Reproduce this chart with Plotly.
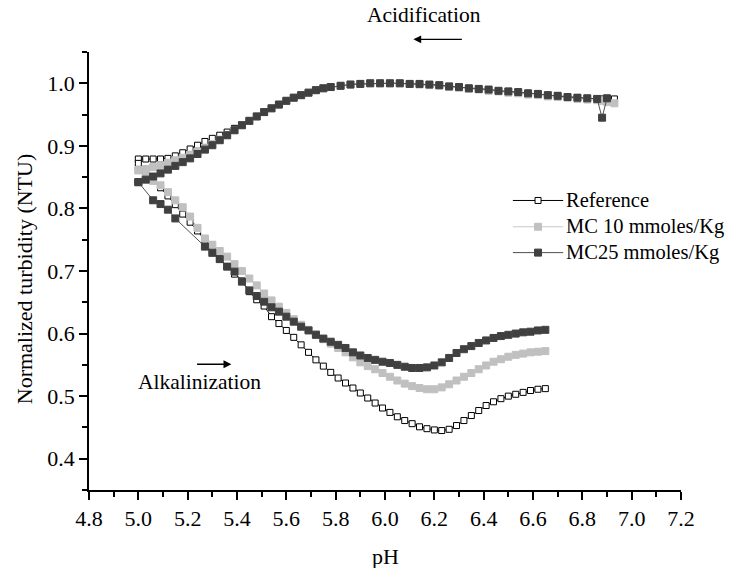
import plotly.graph_objects as go

# pH values read along the acidification run (6.9 -> 5.0)
ACID_PH = [6.93, 6.90, 6.88, 6.86, 6.82, 6.78, 6.74, 6.70, 6.66, 6.62, 6.58, 6.54,
           6.50, 6.46, 6.42, 6.38, 6.34, 6.30, 6.26, 6.22, 6.18, 6.14, 6.10, 6.06,
           6.02, 5.98, 5.94, 5.90, 5.86, 5.82, 5.78, 5.75, 5.72, 5.69, 5.66, 5.63,
           5.60, 5.57, 5.54, 5.51, 5.48, 5.45, 5.42, 5.39, 5.36, 5.33, 5.30, 5.27,
           5.24, 5.21, 5.18, 5.15, 5.12, 5.09, 5.06, 5.03, 5.00]
REF_ACID = [0.975, 0.976, 0.975, 0.975, 0.976, 0.977, 0.978, 0.980, 0.981, 0.983, 0.984, 0.986,
            0.987, 0.988, 0.990, 0.991, 0.992, 0.994, 0.995, 0.997, 0.998, 0.999, 0.999, 1.000,
            1.000, 1.000, 1.000, 0.999, 0.998, 0.996, 0.994, 0.992, 0.989, 0.985, 0.981, 0.977,
            0.972, 0.966, 0.960, 0.954, 0.947, 0.940, 0.934, 0.928, 0.922, 0.917, 0.912, 0.907,
            0.901, 0.895, 0.889, 0.884, 0.880, 0.879, 0.879, 0.879, 0.879]
MC10_ACID = [0.968, 0.970, 0.972, 0.973, 0.974, 0.975, 0.977, 0.978, 0.979, 0.981, 0.982, 0.984,
             0.985, 0.987, 0.988, 0.990, 0.991, 0.993, 0.994, 0.996, 0.997, 0.998, 0.999, 1.000,
             1.000, 1.000, 1.000, 0.999, 0.998, 0.996, 0.994, 0.992, 0.989, 0.985, 0.981, 0.977,
             0.972, 0.966, 0.960, 0.954, 0.947, 0.940, 0.933, 0.925, 0.917, 0.910, 0.903, 0.897,
             0.891, 0.886, 0.881, 0.877, 0.873, 0.869, 0.866, 0.863, 0.861]
MC25_ACID = [None, 0.976, 0.945, 0.975, 0.976, 0.977, 0.978, 0.980, 0.981, 0.983, 0.984, 0.986,
             0.987, 0.988, 0.990, 0.991, 0.992, 0.994, 0.995, 0.997, 0.998, 0.999, 0.999, 1.000,
             1.000, 1.000, 1.000, 0.999, 0.998, 0.996, 0.994, 0.992, 0.989, 0.985, 0.981, 0.977,
             0.972, 0.966, 0.960, 0.954, 0.947, 0.940, 0.933, 0.925, 0.917, 0.909, 0.901, 0.894,
             0.887, 0.880, 0.874, 0.868, 0.862, 0.856, 0.851, 0.846, 0.842]

# pH values read along the alkalinization run (5.0 -> 6.65)
ALK_PH = [5.00, 5.03, 5.06, 5.09, 5.12, 5.15, 5.18, 5.21, 5.24, 5.27, 5.30, 5.33,
          5.36, 5.39, 5.42, 5.45, 5.48, 5.51, 5.54, 5.57, 5.60, 5.63, 5.66, 5.69,
          5.72, 5.75, 5.78, 5.81, 5.84, 5.87, 5.90, 5.93, 5.96, 5.99, 6.02, 6.05,
          6.08, 6.11, 6.14, 6.17, 6.20, 6.23, 6.26, 6.29, 6.32, 6.35, 6.38, 6.41,
          6.44, 6.47, 6.50, 6.53, 6.56, 6.59, 6.62, 6.65]
REF_ALK = [0.872, 0.858, 0.845, 0.833, 0.820, 0.806, 0.791, 0.778, 0.764, 0.749, 0.732, 0.719,
           0.707, 0.695, 0.684, 0.667, 0.654, 0.644, 0.627, 0.616, 0.605, 0.594, 0.582, 0.570,
           0.558, 0.548, 0.538, 0.529, 0.521, 0.513, 0.505, 0.497, 0.489, 0.481, 0.474, 0.467,
           0.461, 0.456, 0.451, 0.448, 0.446, 0.445, 0.447, 0.453, 0.461, 0.469, 0.477, 0.485,
           0.491, 0.496, 0.500, 0.503, 0.506, 0.509, 0.511, 0.512]
MC10_ALK = [0.861, 0.852, 0.844, 0.837, 0.826, 0.813, 0.802, 0.787, 0.769, 0.752, 0.742, 0.732,
            0.723, 0.711, 0.700, 0.688, 0.677, 0.664, 0.653, 0.643, 0.633, 0.623, 0.614, 0.606,
            0.599, 0.591, 0.584, 0.577, 0.570, 0.562, 0.554, 0.548, 0.543, 0.537, 0.531, 0.525,
            0.520, 0.516, 0.513, 0.511, 0.511, 0.514, 0.519, 0.525, 0.531, 0.537, 0.543, 0.549,
            0.555, 0.559, 0.563, 0.566, 0.568, 0.570, 0.571, 0.572]
MC25_ALK = [0.842, None, 0.813, 0.807, 0.798, 0.784, None, None, None, 0.739, 0.729, 0.719,
            0.707, 0.699, 0.683, 0.669, 0.660, 0.651, 0.642, 0.635, 0.627, 0.619, 0.611, 0.605,
            0.598, 0.592, 0.587, 0.582, 0.577, 0.570, 0.565, 0.561, 0.558, 0.555, 0.553, 0.550,
            0.547, 0.545, 0.545, 0.546, 0.549, 0.554, 0.561, 0.569, 0.575, 0.580, 0.585, 0.589,
            0.593, 0.596, 0.598, 0.600, 0.602, 0.603, 0.605, 0.606]

NAMES = ['Reference', 'MC 10 mmoles/Kg', 'MC25 mmoles/Kg']
X_TICKS = [4.8, 5.0, 5.2, 5.4, 5.6, 5.8, 6.0, 6.2, 6.4, 6.6, 6.8, 7.0, 7.2]
Y_TICKS = [0.4, 0.5, 0.6, 0.7, 0.8, 0.9, 1.0]

FONT = 'Liberation Serif'
BLACK = '#000000'
fig = go.Figure()

# series style: (name, values, marker fill, marker edge, line colour, marker size)
series = [
    (NAMES[0], REF_ACID + REF_ALK, '#ffffff', BLACK, BLACK, 6),
    (NAMES[1], MC10_ACID + MC10_ALK, '#c0c0c0', '#c0c0c0', '#c8c8c8', 7),
    (NAMES[2], MC25_ACID + MC25_ALK, '#404040', '#404040', '#505050', 7),
]
for (name, yVals, fill, edge, lcol, msize) in series:
    fig.add_trace(go.Scatter(
        x=ACID_PH + ALK_PH, y=yVals, name=name, mode='lines+markers',
        connectgaps=True, showlegend=False,
        line=dict(color=lcol, width=1),
        marker=dict(symbol='square', size=msize, color=fill,
                    line=dict(color=edge, width=1)),
    ))

# legend drawn by hand so it can sit right against the figure edge -------------
legY = [0.661, 0.601, 0.542]
for (i, (name, _, fill, edge, lcol, msize)) in enumerate(series):
    fig.add_shape(type='line', xref='paper', yref='paper',
                  x0=0.716, x1=0.801, y0=legY[i], y1=legY[i],
                  line=dict(color=lcol, width=1))
    fig.add_shape(type='rect', xref='paper', yref='paper',
                  xsizemode='pixel', ysizemode='pixel',
                  xanchor=0.7585, yanchor=legY[i],
                  x0=-msize / 2, x1=msize / 2, y0=-msize / 2, y1=msize / 2,
                  fillcolor=fill, line=dict(color=edge, width=1))
    fig.add_annotation(x=0.8023, y=legY[i], xref='paper', yref='paper',
                       xanchor='left', yanchor='middle', showarrow=False,
                       text=name, font=dict(size=20.5, family=FONT, color=BLACK))

# direction arrows and their labels --------------------------------------------
fig.add_annotation(x=6.115, y=1.029, xref='x', yref='paper', ax=50, ay=0,
                   text='', showarrow=True, arrowhead=2,
                   arrowsize=1.2, arrowwidth=1.3, arrowcolor=BLACK)
fig.add_annotation(x=6.157, y=1.084, xref='x', yref='paper', yanchor='middle',
                   text='Acidification', showarrow=False,
                   font=dict(size=21.5, family=FONT, color=BLACK))
fig.add_annotation(x=5.377, y=0.551, ax=5.232, ay=0.551, xref='x', yref='y',
                   axref='x', ayref='y', text='', showarrow=True, arrowhead=2,
                   arrowsize=1.2, arrowwidth=1.3, arrowcolor=BLACK)
fig.add_annotation(x=5.249, y=0.522, xref='x', yref='y', text='Alkalinization',
                   showarrow=False, font=dict(size=21.5, family=FONT, color=BLACK))
# axis titles ------------------------------------------------------------------
fig.add_annotation(x=-0.1075, y=0.482, xref='paper', yref='paper', textangle=-90,
                   xanchor='center', yanchor='middle', showarrow=False,
                   text='Normalized turbidity (NTU)',
                   font=dict(size=22, family=FONT, color=BLACK))
fig.add_annotation(x=0.5, y=-0.151, xref='paper', yref='paper',
                   xanchor='center', yanchor='middle', showarrow=False,
                   text='pH', font=dict(size=22, family=FONT, color=BLACK))

axisStyle = dict(
    showline=True, linecolor=BLACK, linewidth=1.5, showgrid=False,
    zeroline=False, ticks='outside', ticklen=8, tickwidth=1.5, tickcolor=BLACK,
    tickfont=dict(size=22, family=FONT, color=BLACK), automargin=False,
)
fig.update_xaxes(
    range=[4.8, 7.2], tickvals=X_TICKS, ticktext=['%.1f' % v for v in X_TICKS],
    minor=dict(dtick=0.1, ticks='outside', ticklen=5, tickwidth=1.5, tickcolor=BLACK),
    **axisStyle
)
fig.update_yaxes(
    range=[0.35, 1.05], tickvals=Y_TICKS, ticktext=['%.1f' % v for v in Y_TICKS],
    minor=dict(dtick=0.05, ticks='outside', ticklen=5, tickwidth=1.5, tickcolor=BLACK),
    **axisStyle
)
fig.update_layout(
    width=730, height=568,
    margin=dict(l=89, r=49, t=52, b=78),
    plot_bgcolor='#ffffff', paper_bgcolor='#ffffff',
    font=dict(family=FONT, color=BLACK),
    showlegend=False,
)
# drop the default page margin so the figure sits at the window's corner
fig.write_html('out.html', config={'displayModeBar': False},
               post_script="document.body.style.margin='0';")
